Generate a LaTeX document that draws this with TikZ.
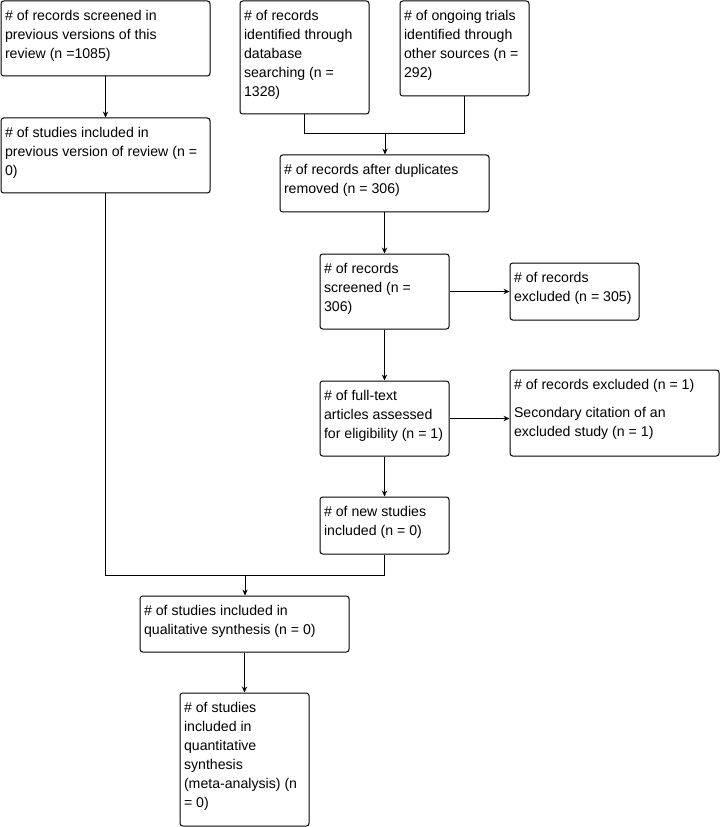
\documentclass[tikz,border=0pt]{standalone}
\usepackage{fontspec}
\setmainfont{Liberation Sans}
\usetikzlibrary{arrows.meta,fit}
\begin{document}
\begin{tikzpicture}[x=0.75pt,y=-0.75pt,
  box/.style={draw, rounded corners=2pt, line width=0.75pt, inner sep=0pt},
  txt/.style={anchor=north west, align=left, inner sep=0pt, font=\fontsize{10.6}{14.25}\selectfont},
  arr/.style={-{Stealth[length=4.5pt,width=4pt]}, line width=0.75pt},
  ln/.style={line width=0.75pt}]
\useasboundingbox (0,0) rectangle (721,827);
\newcommand{\bx}[6]{%
  \node[box, fit={(#2,#3)(#4,#5)}] (#1) {};
  \node[txt] (#1t) at ([xshift=3.2pt,yshift=-4.9pt]#1.north west) {\strut #6};}
\bx{b1}{1}{1}{210}{76}{\# of records screened in\\previous versions of this\\review (n =1085)}
\bx{b2}{240}{1}{369}{114}{\# of records\\identified through\\database\\searching (n =\\1328)}
\bx{b3}{400}{1}{529}{96}{\# of ongoing trials\\identified through\\other sources (n =\\292)}
\bx{b4}{1}{118}{210}{193}{\# of studies included in\\previous version of review (n =\\0)}
\bx{b5}{280}{155}{489}{212}{\# of records after duplicates\\removed (n = 306)}
\bx{b6}{320}{254}{449}{329}{\# of records\\screened (n =\\306)}
\bx{b7}{510}{263}{639}{320}{\# of records\\excluded (n = 305)}
\bx{b8}{320}{381}{449}{456}{\# of full-text\\articles assessed\\for eligibility (n = 1)}
\bx{b9}{510}{370}{719}{456}{\# of records excluded (n = 1)\\[6.75pt]Secondary citation of an\\excluded study (n = 1)}
\bx{b10}{320}{497}{449}{554}{\# of new studies\\included (n = 0)}
\bx{b11}{140}{596}{349}{652}{\# of studies included in\\qualitative synthesis (n = 0)}
\bx{b12}{180}{693}{309}{826}{\# of studies\\included in\\quantitative\\synthesis\\(meta-analysis) (n\\= 0)}
\coordinate (m1) at (385,134);
\coordinate (m2) at (245,575);
\draw[arr] (b1) -- (b4);
\draw[ln] (b2.south) |- (m1);
\draw[ln] (b3.south) |- (m1);
\draw[arr] (m1) -- (m1 |- b5.north);
\draw[arr] (b5) -- (b6);
\draw[arr] (b6) -- (b7);
\draw[arr] (b6) -- (b8);
\draw[arr] (b8.east) -- (b8.east -| b9.west);
\draw[arr] (b8) -- (b10);
\draw[ln] (b4.south) |- (m2);
\draw[ln] (b10.south) |- (m2);
\draw[arr] (m2) -- (m2 |- b11.north);
\draw[arr] (b11) -- (b12);
\end{tikzpicture}
\end{document}
